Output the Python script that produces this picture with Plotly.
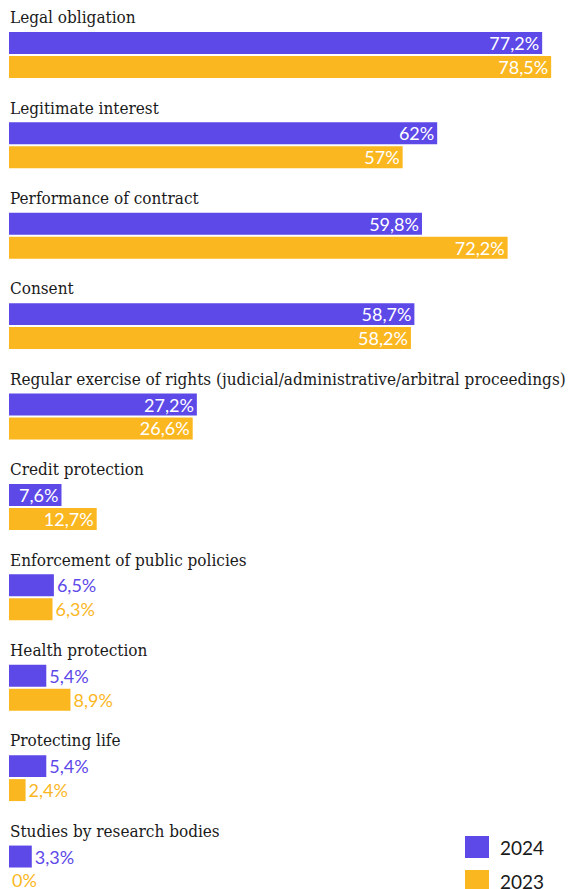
import plotly.graph_objects as go

categories = [
    "Legal obligation",
    "Legitimate interest",
    "Performance of contract",
    "Consent",
    "Regular exercise of rights (judicial/administrative/arbitral proceedings)",
    "Credit protection",
    "Enforcement of public policies",
    "Health protection",
    "Protecting life",
    "Studies by research bodies",
]
values_2024 = [77.2, 62, 59.8, 58.7, 27.2, 7.6, 6.5, 5.4, 5.4, 3.3]
values_2023 = [78.5, 57, 72.2, 58.2, 26.6, 12.7, 6.3, 8.9, 2.4, 0]

PURPLE = "#5d48e8"
YELLOW = "#fbb71f"

# where the value label sits (as in the source chart)
pos_2024 = ["inside"] * 6 + ["outside"] * 4
pos_2023 = ["inside"] * 6 + ["outside"] * 4

# each category is one unit on the y axis: label, then the 2024 bar, then 2023
idx = list(range(len(categories)))
y_label = [i + 0.19 for i in idx]
y_2024 = [i + 0.475 for i in idx]
y_2023 = [i + 0.74 for i in idx]


def fmt(v):
    return f"{v:g}".replace(".", ",") + "%"


fig = go.Figure()

for name, vals, ys, pos, color in [
    ("2024", values_2024, y_2024, pos_2024, PURPLE),
    ("2023", values_2023, y_2023, pos_2023, YELLOW),
]:
    fig.add_trace(
        go.Bar(
            x=vals,
            y=ys,
            orientation="h",
            name=name,
            width=0.243,
            marker=dict(color=color, line=dict(width=0)),
            text=[fmt(v) for v in vals],
            textposition=pos,
            insidetextanchor="end",
            insidetextfont=dict(color="white", family="Lato", size=18),
            outsidetextfont=dict(color=color, family="Lato", size=18),
            constraintext="none",
            cliponaxis=False,
            hoverinfo="skip",
            showlegend=False,
        )
    )

for cat, y in zip(categories, y_label):
    fig.add_annotation(
        x=0, y=y, xref="x", yref="y",
        text=cat, showarrow=False,
        xanchor="left", yanchor="middle", xshift=-1,
        font=dict(family="DejaVu Serif Condensed, DejaVu Serif, serif", size=17, color="#1a1a1a"),
    )

# legend drawn bottom right
for k, (name, color) in enumerate([("2024", PURPLE), ("2023", YELLOW)]):
    top = 1 - 836 / 889 - k * 34 / 889
    fig.add_shape(
        type="rect", xref="paper", yref="paper",
        x0=(465 - 9) / 567, x1=(489 - 9) / 567,
        y0=top - 22 / 889, y1=top,
        fillcolor=color, line=dict(width=0),
    )
    fig.add_annotation(
        xref="paper", yref="paper",
        x=(498 - 9) / 567, y=top - 11 / 889,
        text=name, showarrow=False,
        xanchor="left", yanchor="middle",
        font=dict(family="Lato", size=19, color="#1a1a1a"),
    )

fig.update_layout(
    width=576,
    height=889,
    margin=dict(l=9, r=0, t=0, b=0),
    paper_bgcolor="white",
    plot_bgcolor="white",
    barmode="overlay",
    xaxis=dict(range=[0, 82.1], visible=False, fixedrange=True),
    yaxis=dict(range=[889 / 90.4, 0], visible=False, fixedrange=True),
)

fig.write_html(
    "out.html",
    config={"displayModeBar": False},
    post_script="document.body.style.margin='0';",
)
